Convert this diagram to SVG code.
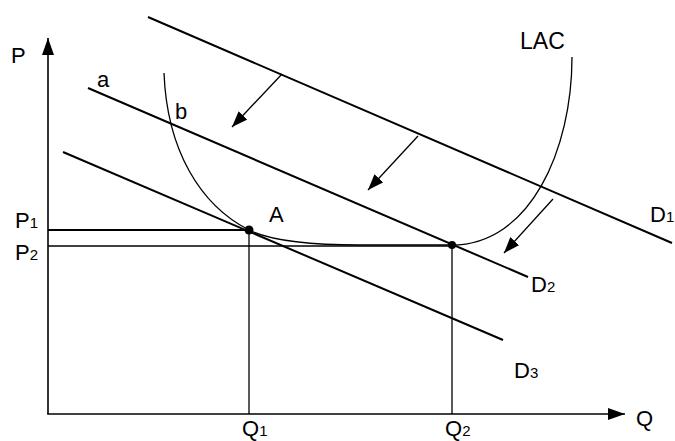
<svg xmlns="http://www.w3.org/2000/svg" width="675" height="441" viewBox="0 0 675 441">
<style>
text{font-family:"Liberation Sans",Arial,sans-serif;font-size:22px;fill:#000}
.sub{font-size:15px}
.d{stroke:#000;stroke-width:2;fill:none}
.thin{stroke:#000;stroke-width:1.3;fill:none}
.ax{stroke:#000;stroke-width:1.6;fill:none}
</style>
<defs>
<marker id="ah" viewBox="0 0 16 12" refX="16" refY="6" markerWidth="16" markerHeight="12" markerUnits="userSpaceOnUse" orient="auto">
<path d="M0,0 L16,6 L0,12 Z" fill="#000"/>
</marker>
<marker id="axh" viewBox="0 0 17 12" refX="17" refY="6" markerWidth="17" markerHeight="12" markerUnits="userSpaceOnUse" orient="auto">
<path d="M0,0 L17,6 L0,12 Z" fill="#000"/>
</marker>
</defs>
<g id="axes">
<line class="ax" x1="48" y1="414" x2="48" y2="38" marker-end="url(#axh)"/>
<line class="ax" x1="47.2" y1="414" x2="625" y2="414" marker-end="url(#axh)"/>
<text x="11" y="63">P</text>
<text x="636" y="426">Q</text>
</g>
<g id="connectors">
<line class="d" x1="148" y1="17" x2="672" y2="243"/>
<line class="d" x1="88" y1="88" x2="528" y2="277"/>
<line class="d" x1="63" y1="152" x2="503" y2="340"/>
<line class="d" x1="48" y1="230" x2="249" y2="230"/>
<line class="ax" x1="48" y1="246" x2="452" y2="246"/>
<line class="thin" x1="249" y1="230" x2="249" y2="414"/>
<line class="thin" x1="452" y1="245" x2="452" y2="414"/>
<path class="thin" d="M164,73 C167,150 200,205 249,230 C275,243 320,245 360,245 L452,245 C530,245 572,150 572,57"/>
<line class="thin" x1="282" y1="74" x2="232" y2="127" marker-end="url(#ah)"/>
<line class="thin" x1="418" y1="136" x2="368" y2="190" marker-end="url(#ah)"/>
<line class="thin" x1="553" y1="199" x2="504" y2="253" marker-end="url(#ah)"/>
</g>
<g id="pointA">
<circle cx="249" cy="230" r="4.5" fill="#000"/>
<text x="269" y="222">A</text>
</g>
<g id="pointQ2">
<circle cx="452" cy="245" r="4" fill="#000"/>
</g>
<g id="labels">
<text x="97" y="87">a</text>
<text x="175" y="119">b</text>
<text x="520" y="49" style="font-size:23px">LAC</text>
<text x="15" y="228">P<tspan class="sub">1</tspan></text>
<text x="15" y="260">P<tspan class="sub">2</tspan></text>
<text x="242" y="436">Q<tspan class="sub">1</tspan></text>
<text x="445" y="436">Q<tspan class="sub">2</tspan></text>
<text x="650" y="222">D<tspan class="sub">1</tspan></text>
<text x="531" y="292">D<tspan class="sub">2</tspan></text>
<text x="514" y="378">D<tspan class="sub">3</tspan></text>
</g>
</svg>
